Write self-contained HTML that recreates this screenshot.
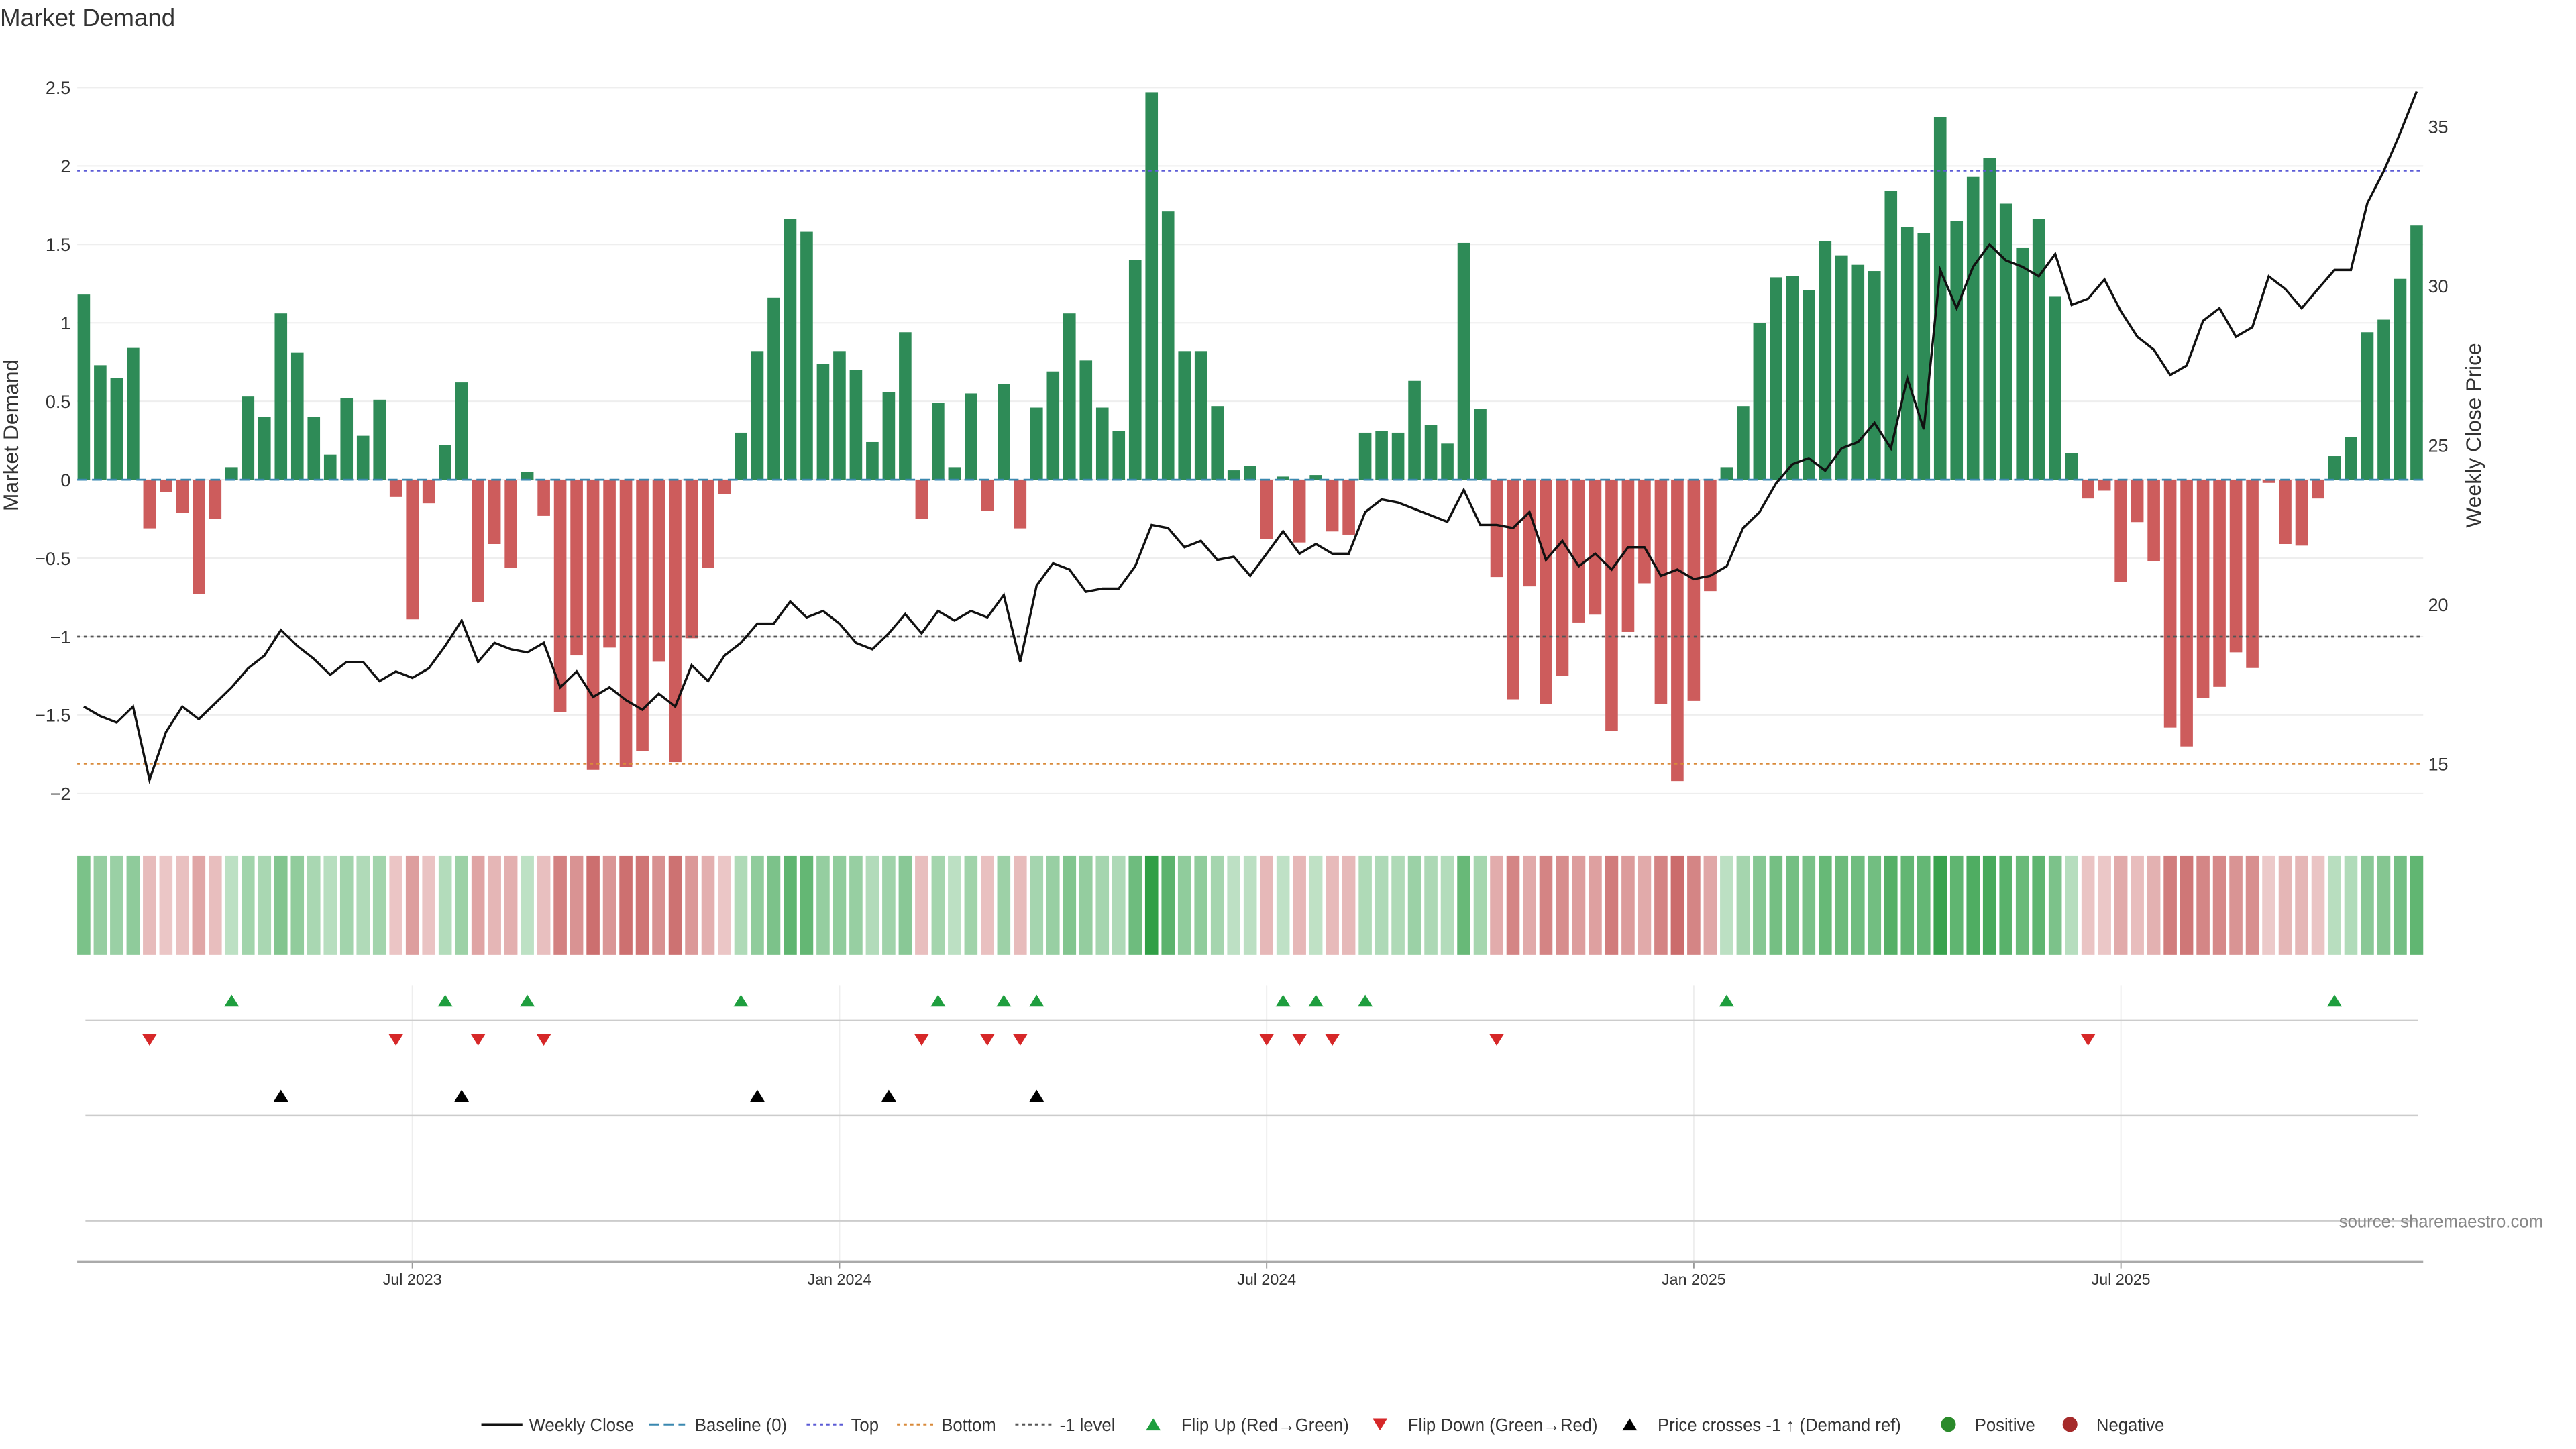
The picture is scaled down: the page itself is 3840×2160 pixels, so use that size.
<!DOCTYPE html>
<html><head><meta charset="utf-8"><style>
html,body{margin:0;padding:0;background:#fff;}
svg{display:block;font-family:"Liberation Sans","DejaVu Sans",sans-serif;}
</style></head><body>
<svg id="chart" width="3840" height="2160" viewBox="0 0 1568 882" preserveAspectRatio="none" xmlns="http://www.w3.org/2000/svg">
<text x="0" y="16" font-size="15" fill="#333">Market Demand</text>
<g id="grid"></g><g id="bars"></g><g id="lines"></g><g id="heat"></g><g id="markers"></g><g id="axes"></g>
<text x="1548" y="747" font-size="10.5" fill="#888" text-anchor="end">source: sharemaestro.com</text>
<g id="legend"></g>
</svg>
<script>
const demand=[1.18,0.73,0.65,0.84,-0.31,-0.08,-0.21,-0.73,-0.25,0.08,0.53,0.40,1.06,0.81,0.40,0.16,0.52,0.28,0.51,-0.11,-0.89,-0.15,0.22,0.62,-0.78,-0.41,-0.56,0.05,-0.23,-1.48,-1.12,-1.85,-1.07,-1.83,-1.73,-1.16,-1.80,-1.01,-0.56,-0.09,0.30,0.82,1.16,1.66,1.58,0.74,0.82,0.70,0.24,0.56,0.94,-0.25,0.49,0.08,0.55,-0.20,0.61,-0.31,0.46,0.69,1.06,0.76,0.46,0.31,1.40,2.47,1.71,0.82,0.82,0.47,0.06,0.09,-0.38,0.02,-0.40,0.03,-0.33,-0.35,0.30,0.31,0.30,0.63,0.35,0.23,1.51,0.45,-0.62,-1.40,-0.68,-1.43,-1.25,-0.91,-0.86,-1.60,-0.97,-0.66,-1.43,-1.92,-1.41,-0.71,0.08,0.47,1.00,1.29,1.30,1.21,1.52,1.43,1.37,1.33,1.84,1.61,1.57,2.31,1.65,1.93,2.05,1.76,1.48,1.66,1.17,0.17,-0.12,-0.07,-0.65,-0.27,-0.52,-1.58,-1.70,-1.39,-1.32,-1.10,-1.20,-0.02,-0.41,-0.42,-0.12,0.15,0.27,0.94,1.02,1.28,1.62];
const price=[16.8,16.5,16.3,16.8,14.5,16.0,16.8,16.4,16.9,17.4,18.0,18.4,19.2,18.7,18.3,17.8,18.2,18.2,17.6,17.9,17.7,18.0,18.7,19.5,18.2,18.8,18.6,18.5,18.8,17.4,17.9,17.1,17.4,17.0,16.7,17.2,16.8,18.1,17.6,18.4,18.8,19.4,19.4,20.1,19.6,19.8,19.4,18.8,18.6,19.1,19.7,19.1,19.8,19.5,19.8,19.6,20.3,18.2,20.6,21.3,21.1,20.4,20.5,20.5,21.2,22.5,22.4,21.8,22.0,21.4,21.5,20.9,21.6,22.3,21.6,21.9,21.6,21.6,22.9,23.3,23.2,23.0,22.8,22.6,23.6,22.5,22.5,22.4,22.9,21.4,22.0,21.2,21.6,21.1,21.8,21.8,20.9,21.1,20.8,20.9,21.2,22.4,22.9,23.8,24.4,24.6,24.2,24.9,25.1,25.7,24.9,27.1,25.5,30.5,29.3,30.6,31.3,30.8,30.6,30.3,31.0,29.4,29.6,30.2,29.2,28.4,28.0,27.2,27.5,28.9,29.3,28.4,28.7,30.3,29.9,29.3,29.9,30.5,30.5,32.6,33.6,34.8,36.1];
const leftTicks=[2.5,2,1.5,1,0.5,0,-0.5,-1,-1.5,-2];
const rightTicks=[35,30,25,20,15];
const dateTicks=["Jul 2023","Jan 2024","Jul 2024","Jan 2025","Jul 2025"];
const dateTickIdx=[20,46,72,98,124];
const levels={top:1.97,bottom:-1.81,minus1:-1};
const crossPriceLevel=19.0;

const NS="http://www.w3.org/2000/svg";
function el(tag,attrs,parent,text){const e=document.createElementNS(NS,tag);for(const k in attrs)e.setAttribute(k,attrs[k]);if(text!==undefined)e.textContent=text;parent.appendChild(e);return e;}
const N=Math.min(demand.length,price.length);
const x=i=>51+i*(1420/(N-1));
const yL=v=>292-v*95.5;
const yR=p=>465-(p-15)*19.4;
const G=id=>document.getElementById(id);

leftTicks.forEach(t=>{
  const g=el('line',{x1:47,x2:1475,y1:yL(t),y2:yL(t),stroke:'#eee','stroke-width':0.8},G('grid'));
  
  
  const tx=el('text',{x:43,y:yL(t)+4,'font-size':11,fill:'#333','text-anchor':'end'},G('axes'),(t<0?'\u2212'+(-t):String(t)));
  
  
});
rightTicks.forEach(t=>{
  const tx=el('text',{x:1478,y:yR(t)+4,'font-size':11,fill:'#333'},G('axes'),String(t));
  
  
});
let t1=el('text',{x:11,y:265,'font-size':13,fill:'#333','text-anchor':'middle',transform:'rotate(-90 11 265)'},G('axes'),'Market Demand');


let t2=el('text',{x:1510,y:265,'font-size':13,fill:'#333','text-anchor':'middle',transform:'rotate(-90 1510 265)'},G('axes'),'Weekly Close Price');



demand.slice(0,N).forEach((v,i)=>{
  const r=el('rect',{x:x(i)-3.8,width:7.6,y:Math.min(yL(v),yL(0)),height:Math.abs(yL(v)-yL(0)),fill:v>=0?'#2e8b57':'#cd5c5c'},G('bars'));
  
  
});
function hline(v,color,dash,name){const l=el('line',{x1:47,x2:1475,y1:yL(v),y2:yL(v),stroke:color,'stroke-width':1.1,'stroke-dasharray':dash},G('lines'));}
hline(levels.top,'#5b5bd6','2,2','top-line');
hline(levels.bottom,'#d98a3a','2,2','bottom-line');
hline(levels.minus1,'#555','2,2','minus1-line');
hline(0,'#3a88b0','6,3','baseline-line');
let d='';for(let i=0;i<N;i++)d+=(i?'L':'M')+x(i).toFixed(1)+','+yR(price[i]).toFixed(1);
const pl=el('path',{d:d,fill:'none',stroke:'#111','stroke-width':1.4},G('lines'));



function mix(c,t){return 'rgb('+c.map(v=>Math.round(255+(v-255)*t)).join(',')+')';}
demand.slice(0,N).forEach((v,i)=>{
  const t=0.3+0.7*Math.min(Math.abs(v)/2.5,1);
  const c=v>=0?mix([46,158,68],t):mix([190,70,70],t*0.95);
  const r=el('rect',{x:x(i)-4,width:8,y:521,height:60,fill:c},G('heat'));
  
  
});

[621,679,743].forEach(yy=>{const l=el('line',{x1:52,x2:1472,y1:yy,y2:yy,stroke:'#ccc','stroke-width':1},G('axes'));});
dateTickIdx.forEach((di,k)=>{
  const xx=x(di);
  const l=el('line',{x1:xx,x2:xx,y1:600,y2:768,stroke:'#eee','stroke-width':0.8},G('grid'));
  
  
  const tk=el('line',{x1:xx,x2:xx,y1:768,y2:772,stroke:'#999','stroke-width':0.8},G('axes'));
  
  
  const tx=el('text',{x:xx,y:782,'font-size':9.5,fill:'#333','text-anchor':'middle'},G('axes'),dateTicks[k]);
  
  
});
const ax=el('line',{x1:47,x2:1475,y1:768,y2:768,stroke:'#aaa','stroke-width':1},G('axes'));



function tri(cx,cy,up,color,parent){const s=4.5;const p=up?`${cx-s},${cy+s*0.8} ${cx+s},${cy+s*0.8} ${cx},${cy-s*0.8}`:`${cx-s},${cy-s*0.8} ${cx+s},${cy-s*0.8} ${cx},${cy+s*0.8}`;return el('polygon',{points:p,fill:color},parent);}
for(let i=1;i<N;i++){
  if(demand[i-1]<0&&demand[i]>=0){const m=tri(x(i),609,true,'#1e9e3e',G('markers'));}
  if(demand[i-1]>=0&&demand[i]<0){const m=tri(x(i),633,false,'#d62728',G('markers'));}
  if(price[i-1]<crossPriceLevel&&price[i]>=crossPriceLevel){const m=tri(x(i),667,true,'#000',G('markers'));}
}

const L=G('legend');const ly=867;
function ltext(xx,s,name){const t=el('text',{x:xx,y:ly+4,'font-size':10.5,fill:'#333'},L,s);}
el('line',{x1:293,x2:318,y1:ly,y2:ly,stroke:'#111','stroke-width':1.4},L);ltext(322,'Weekly Close','legend-weekly-close');
el('line',{x1:395,x2:417,y1:ly,y2:ly,stroke:'#3a88b0','stroke-width':1.2,'stroke-dasharray':'6,3'},L);ltext(423,'Baseline (0)','legend-baseline');
el('line',{x1:491,x2:513,y1:ly,y2:ly,stroke:'#5b5bd6','stroke-width':1.2,'stroke-dasharray':'2,2'},L);ltext(518,'Top','legend-top');
el('line',{x1:546,x2:568,y1:ly,y2:ly,stroke:'#d98a3a','stroke-width':1.2,'stroke-dasharray':'2,2'},L);ltext(573,'Bottom','legend-bottom');
el('line',{x1:618,x2:640,y1:ly,y2:ly,stroke:'#555','stroke-width':1.2,'stroke-dasharray':'2,2'},L);ltext(645,'-1 level','legend-minus1');
tri(702,ly,true,'#1e9e3e',L);ltext(719,'Flip Up (Red\u2192Green)','legend-flip-up');
tri(840,ly,false,'#d62728',L);ltext(857,'Flip Down (Green\u2192Red)','legend-flip-down');
tri(992,ly,true,'#000',L);ltext(1009,'Price crosses -1 \u2191 (Demand ref)','legend-price-cross');
el('circle',{cx:1186,cy:ly,r:4.5,fill:'#2a8a2a'},L);ltext(1202,'Positive','legend-positive');
el('circle',{cx:1260,cy:ly,r:4.5,fill:'#a52a2a'},L);ltext(1276,'Negative','legend-negative');
</script>
</body></html>
